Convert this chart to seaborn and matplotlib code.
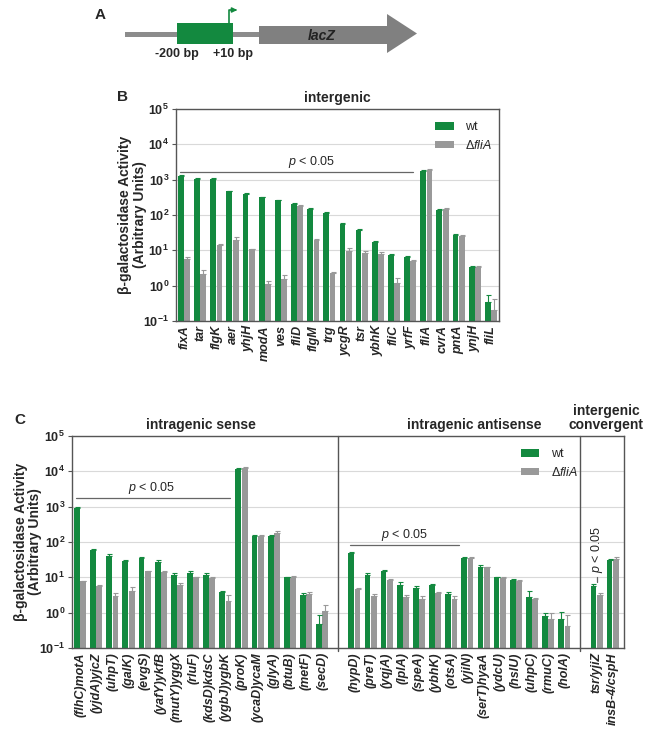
"""
Activité beta-galactosidase des fusions promoteur-lacZ (wt vs delta fliA).
Sauve out.png (650x729 px).
"""

import matplotlib
matplotlib.use('Agg')
import matplotlib.pyplot as plt
from matplotlib.patches import Rectangle, Polygon, Patch
import seaborn as sns
import pandas as pd

sns.set_style('white')
plt.rcParams.update({
    'font.family': ['Liberation Sans', 'DejaVu Sans'],
    'mathtext.fontset': 'custom',
    'mathtext.rm': 'Liberation Sans',
    'mathtext.it': 'Liberation Sans:italic',
    'mathtext.bf': 'Liberation Sans:bold',
})

GREEN = '#13893f'
GRAY = '#999999'
SPINE = '#555555'

# --- Données panneau B (intergénique) ---
b_genes = ['fixA', 'tar', 'flgK', 'aer', 'yhjH', 'modA', 'ves', 'fliD', 'flgM', 'trg',
           'ycgR', 'tsr', 'ybhK', 'fliC', 'yrfF', 'fliA', 'cvrA', 'pntA', 'ynjH', 'fliL']
b_wt = [1300, 1070, 1050, 470, 395, 318, 262, 205, 150, 112,
        56, 38, 17.4, 7.2, 6.6, 1800, 140, 27, 3.3, 0.35]
b_dfl = [5.8, 2.2, 14, 20, 10.6, 1.1, 1.55, 180, 19.5, 2.35,
         9.6, 8.6, 8.0, 1.2, 5.0, 1900, 150, 25, 3.3, 0.21]
b_wt_err = [60, 40, 40, 20, 20, 15, 10, 10, 8, 6,
            5, 3, 1.2, 0.6, 0.3, 100, 8, 1.5, 0.3, 0.21]
b_dfl_err = [0.6, 0.6, 0.8, 3.7, 0.6, 0.22, 0.5, 10, 1.2, 0.15,
             2.3, 1.0, 1.2, 0.45, 0.2, 100, 10, 1.5, 0.35, 0.21]

# --- Données panneau C ---
sense_genes = ['(flhC)motA', '(yjdA)yjcZ', '(uhpT)', '(galK)', '(evgS)', '(yafY)ykfB',
               '(mutY)yggX', '(rluF)', '(kdsD)kdsC', '(ygbJ)ygbK', '(proK)', '(ycaD)ycaM',
               '(glyA)', '(btuB)', '(metF)', '(secD)']
sense_wt = [900, 60, 39, 29.5, 35, 28, 12, 13.2, 12, 3.8, 12000, 150, 150, 10, 3.2, 0.47]
sense_dfl = [7.7, 5.8, 3.0, 4.1, 14.8, 13.8, 6.0, 10, 9.6, 2.2, 12500, 150, 175, 10.5, 3.3, 1.15]
sense_wt_err = [50, 3, 6, 2, 3, 3, 1.5, 2, 1, 0.3, 500, 8, 8, 0.5, 0.4, 0.38]
sense_dfl_err = [0.4, 0.3, 0.6, 1.3, 0.8, 1.5, 0.8, 0.5, 0.5, 0.9, 500, 8, 25, 0.5, 0.5, 0.55]

anti_genes = ['(hypD)', '(preT)', '(yqjA)', '(lplA)', '(speA)', '(ybhK)', '(otsA)',
              '(yjiN)', '(serT)hyaA', '(ydcU)', '(hslU)', '(uhpC)', '(rmuC)', '(holA)']
anti_wt = [49, 12, 15.6, 6.0, 5.1, 6.0, 3.4, 35, 19, 10, 8.3, 2.7, 0.83, 0.65]
anti_dfl = [4.7, 3.0, 8.6, 2.8, 2.4, 3.5, 2.4, 35, 19, 9.6, 7.8, 2.4, 0.65, 0.42]
anti_wt_err = [3, 1.5, 1, 1.2, 0.5, 0.5, 0.5, 1.5, 3, 0.5, 0.6, 1.5, 0.17, 0.4]
anti_dfl_err = [0.3, 0.3, 0.5, 0.3, 0.6, 0.3, 0.6, 1.5, 1, 0.4, 0.5, 0.2, 0.35, 0.43]

conv_genes = ['tsr/yjiZ', 'insB-4/cspH']
conv_wt = [5.8, 31]
conv_dfl = [3.1, 33]
conv_wt_err = [0.8, 1.5]
conv_dfl_err = [0.6, 5]

DFL_LABEL = 'Δ$\\mathit{fliA}$'
YLABEL = 'β-galactosidase Activity\n(Arbitrary Units)'
FLOOR = 1e-3  # pied des barres, sous l'axe log


def draw_bars(ax, order, genes, wt, dfl, wt_err, dfl_err, ylab_x):
    """Barres groupées wt / delta fliA en échelle log avec erreurs vers le haut."""
    n = len(genes)
    df = pd.DataFrame({
        'gene': genes * 2,
        'strain': ['wt'] * n + ['dfliA'] * n,
        'value': wt + dfl,
    })
    sns.barplot(data=df, x='gene', y='value', hue='strain', order=order,
                hue_order=['wt', 'dfliA'], palette={'wt': GREEN, 'dfliA': GRAY},
                saturation=1, width=0.78, gap=0.08, errorbar=None, log_scale=True,
                legend=False, ax=ax)

    errs = [dict(zip(genes, wt_err)), dict(zip(genes, dfl_err))]
    colors = [GREEN, GRAY]
    for k, cont in enumerate(ax.containers[:2]):
        for bar in cont:
            xc = bar.get_x() + bar.get_width() / 2
            top = bar.get_y() + bar.get_height()
            # les barres partent du bas de l'axe log
            bar.set_y(FLOOR)
            bar.set_height(top - FLOOR)
            bar.set_edgecolor('none')
            gene = order[int(round(xc))]
            ax.errorbar(xc, top, yerr=[[0], [errs[k][gene]]], color=colors[k],
                        lw=0.8, capsize=1.8, capthick=0.8)

    ax.set_ylim(0.1, 1e5)
    ticks = [10.0 ** p for p in range(-1, 6)]
    ax.set_yticks(ticks)
    ax.set_yticklabels([r'$\mathbf{10^{%d}}$' % p for p in range(-1, 6)], fontsize=9)
    ax.minorticks_off()
    ax.yaxis.grid(True, color='#d9d9d9', lw=0.8)
    ax.set_axisbelow(True)
    ax.tick_params(axis='y', length=3, width=0.8, color=SPINE, pad=2, left=True)
    ax.tick_params(axis='x', length=0, pad=3)
    for lbl in ax.get_xticklabels():
        lbl.set_rotation(90)
        lbl.set_fontstyle('italic')
        lbl.set_fontweight('bold')
        lbl.set_fontsize(9)
    for sp in ax.spines.values():
        sp.set_visible(True)
        sp.set_color(SPINE)
        sp.set_linewidth(1)
    ax.set_xlabel('')
    ax.set_ylabel(YLABEL, fontsize=10, fontweight='bold', linespacing=1.05)
    ax.yaxis.set_label_coords(ylab_x, 0.5)


def add_legend(ax, anchor):
    handles = [Patch(facecolor=GREEN, edgecolor='none'), Patch(facecolor=GRAY, edgecolor='none')]
    ax.legend(handles, ['wt', DFL_LABEL], loc='upper right', bbox_to_anchor=anchor,
              frameon=False, fontsize=9, handlelength=1.5, handleheight=0.55,
              handletextpad=0.9, labelspacing=0.45, borderaxespad=0)


def p_line(ax, x0, x1, y, xt):
    ax.plot([x0, x1], [y, y], color='#666666', lw=0.9)
    ax.text(xt, y * 1.12, '$p$ < 0.05', ha='center', va='bottom', fontsize=9)


W, H = 650, 729
fig = plt.figure(figsize=(W / 100, H / 100), dpi=100)


def px_axes(x0, y0, x1, y1):
    return fig.add_axes([x0 / W, 1 - y1 / H, (x1 - x0) / W, (y1 - y0) / H])


# --- Panneau A : schéma de la construction ---
ax_a = fig.add_axes([0, 1 - 65 / H, 1, 65 / H])
ax_a.set_xlim(0, W)
ax_a.set_ylim(65, 0)
ax_a.axis('off')
ax_a.add_patch(Rectangle((125, 32), 135, 5, color='#8c8c8c', lw=0))
ax_a.add_patch(Rectangle((177, 23), 56, 21, color=GREEN, lw=0))
ax_a.plot([229, 229, 234], [23, 10, 10], color=GREEN, lw=1.2, solid_capstyle='butt')
ax_a.annotate('', xy=(240, 10), xytext=(232, 10),
              arrowprops=dict(arrowstyle='-|>', color=GREEN, lw=1.2, mutation_scale=7))
ax_a.add_patch(Polygon([(259, 26), (387, 26), (387, 14), (417, 33.5),
                        (387, 53), (387, 44), (259, 44)], color='#808080', lw=0))
ax_a.text(322, 36, 'lacZ', ha='center', va='center', fontsize=10,
          fontweight='bold', fontstyle='italic', color='#222222')
ax_a.text(177, 54, '-200 bp', ha='center', va='center', fontsize=9, fontweight='bold')
ax_a.text(233, 54, '+10 bp', ha='center', va='center', fontsize=9, fontweight='bold')
ax_a.text(100, 15, 'A', ha='center', va='center', fontsize=11, fontweight='bold')

# --- Panneau B ---
ax_b = px_axes(176, 109, 499, 321)
draw_bars(ax_b, b_genes, b_genes, b_wt, b_dfl, b_wt_err, b_dfl_err, -0.09)
ax_b.set_xlim(-0.5, len(b_genes) - 0.5)
ax_b.set_title('intergenic', fontsize=10, fontweight='bold', pad=5)
p_line(ax_b, -0.25, 14.2, 1660, 7.9)
add_legend(ax_b, (0.995, 0.965))
fig.text(123 / W, 1 - 97 / H, 'B', ha='center', va='center', fontsize=11, fontweight='bold')

# --- Panneau C ---
order_c = sense_genes + [' '] + anti_genes + ['  '] + conv_genes
ax_c = px_axes(72, 436, 624, 648)
draw_bars(ax_c, order_c, sense_genes + anti_genes + conv_genes,
          sense_wt + anti_wt + conv_wt, sense_dfl + anti_dfl + conv_dfl,
          sense_wt_err + anti_wt_err + conv_wt_err,
          sense_dfl_err + anti_dfl_err + conv_dfl_err, -0.054)
ax_c.set_xlim(-0.5, len(order_c) - 0.3)
for sep in [order_c.index(' '), order_c.index('  ')]:
    ax_c.plot([sep, sep], [0.08, 1e5], color=SPINE, lw=1, clip_on=False)

p_line(ax_c, -0.25, 9.3, 1780, 4.45)
p_line(ax_c, 16.75, 23.45, 83, 20.1)
ax_c.plot([32, 32], [7.3, 10.5], color='#666666', lw=0.9)
ax_c.text(32, 13, '$p$ < 0.05', rotation=90, ha='center', va='bottom', fontsize=9)
add_legend(ax_c, (0.925, 0.965))

ax_c.text(7.5, 1.02, 'intragenic sense', transform=ax_c.get_xaxis_transform(),
          ha='center', va='bottom', fontsize=10, fontweight='bold')
ax_c.text(24.4, 1.02, 'intragenic antisense', transform=ax_c.get_xaxis_transform(),
          ha='center', va='bottom', fontsize=10, fontweight='bold')
ax_c.text(32.6, 1.02, 'intergenic\nconvergent', transform=ax_c.get_xaxis_transform(),
          ha='center', va='bottom', fontsize=10, fontweight='bold', linespacing=1.0)
fig.text(20 / W, 1 - 420 / H, 'C', ha='center', va='center', fontsize=11, fontweight='bold')

fig.savefig('out.png', dpi=100)
plt.close(fig)
